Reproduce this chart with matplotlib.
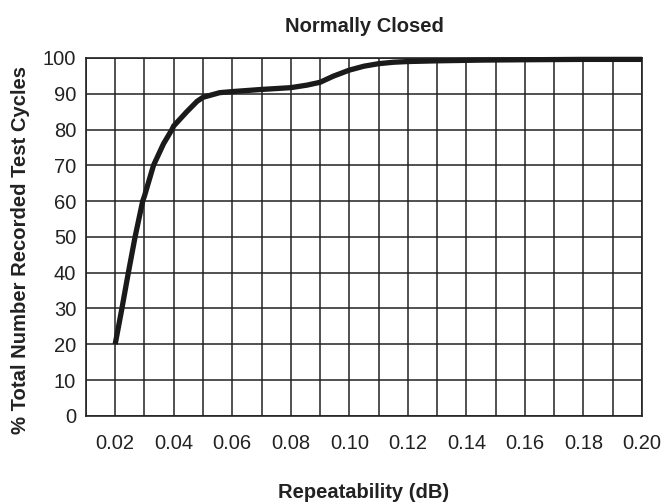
import numpy as np
import matplotlib.pyplot as plt

plt.rcParams['font.family'] = ['Liberation Sans', 'DejaVu Sans']

# Curve
repeat_db = [0.0200, 0.0223, 0.0245, 0.0268, 0.0294, 0.0300, 0.0331, 0.0365,
             0.0394, 0.0400, 0.0445, 0.0480, 0.0500, 0.0557, 0.0600, 0.0700,
             0.0800, 0.0855, 0.0900, 0.0945, 0.1000, 0.1050, 0.1100, 0.1150,
             0.1200, 0.1300, 0.1450, 0.1600, 0.1800, 0.2000]
pct_cycles = [20.0, 30.0, 40.0, 50.0, 60.0, 61.4, 70.0, 76.0,
              80.0, 81.0, 85.0, 87.9, 89.0, 90.3, 90.6, 91.2,
              91.7, 92.4, 93.2, 94.9, 96.6, 97.7, 98.4, 98.8,
              99.0, 99.2, 99.4, 99.5, 99.6, 99.6]

x_grid = np.arange(0.01, 0.2001, 0.01)
x_ticks = np.arange(0.02, 0.2001, 0.02)
y_ticks = np.arange(0, 101, 10)

fig = plt.figure(figsize=(6.66, 5.04), dpi=100)
ax = fig.add_axes([0.129, 0.175, 0.835, 0.710])

for xv in x_grid:
    ax.axvline(xv, color='#222222', lw=1.1, zorder=1)
for yv in y_ticks:
    ax.axhline(yv, color='#222222', lw=1.1, zorder=1)

ax.plot(repeat_db, pct_cycles, color='#1a1a1a', lw=3.8, solid_capstyle='butt',
        solid_joinstyle='round', zorder=3, clip_on=False)

ax.set_xlim(0.01, 0.20)
ax.set_ylim(0, 100)
ax.set_xticks(x_ticks)
ax.set_xticklabels(['%.2f' % v for v in x_ticks])
ax.set_yticks(y_ticks)
ax.tick_params(length=0, labelsize=14.5, colors='#222222')
ax.tick_params(axis='x', pad=13)
ax.tick_params(axis='y', pad=7)
for s in ax.spines.values():
    s.set_color('#222222')
    s.set_linewidth(1.2)

ax.set_title('Normally Closed', fontsize=14.5, fontweight='bold', pad=19,
             color='#222222')
ax.set_xlabel('Repeatability (dB)', fontsize=14.5, fontweight='bold',
              labelpad=22, color='#222222')
ax.set_ylabel('% Total Number Recorded Test Cycles', fontsize=14.6,
              fontweight='bold', color='#222222', va='center')
ax.yaxis.set_label_coords(-0.117, 0.464)

fig.savefig('out.png', dpi=100)
